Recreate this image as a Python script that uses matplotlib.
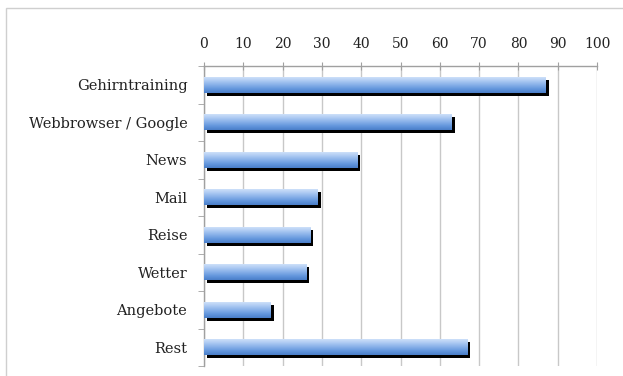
import numpy as np
import matplotlib
matplotlib.use("Agg")
import matplotlib.pyplot as plt
import matplotlib.patheffects as pe
from matplotlib.patches import Rectangle
from matplotlib.colors import LinearSegmentedColormap

categories = ['Gehirntraining', 'Webbrowser / Google', 'News', 'Mail',
              'Reise', 'Wetter', 'Angebote', 'Rest']
values = [87, 63, 39, 29, 27, 26, 17, 67]
x_ticks = [0, 10, 20, 30, 40, 50, 60, 70, 80, 90, 100]

_FONT = 'DejaVu Serif'
_GRID = '#c8c8c8'

fig = plt.figure(figsize=(6.23, 3.76), dpi=100)
ax = fig.add_axes([204 / 623., 1 - 366 / 376., 393 / 623., 300 / 376.])

# outer frame of the chart area
fig.patches.append(Rectangle((6 / 623., -0.1), 1.1, 1 - 8 / 376. + 0.1,
                             transform=fig.transFigure, fill=False,
                             edgecolor='#cfcfcf', linewidth=1.0))

y = np.arange(len(categories))
bars = ax.barh(y, values, height=0.42, color='#7aa5e2', zorder=3,
               path_effects=[pe.SimplePatchShadow(offset=(2.2, -2.2),
                                                  shadow_rgbFace='black',
                                                  alpha=1.0),
                             pe.Normal()])

# vertical gradient fill for each bar
cmap = LinearSegmentedColormap.from_list(
    'bar', ['#cde0f9', '#aac8f2', '#86afe8', '#6396dc', '#4a7ec9'])
grad = np.linspace(0, 1, 64).reshape(-1, 1)
for bar in bars:
  x0, y0 = bar.get_x(), bar.get_y()
  w, h = bar.get_width(), bar.get_height()
  im = ax.imshow(grad, cmap=cmap, aspect='auto', zorder=4,
                 extent=(x0, x0 + w, y0 + h, y0), origin='upper')
  im.set_clip_path(bar)

ax.set_xlim(0, 100)
ax.set_ylim(len(categories) - 0.5, -0.5)
ax.set_aspect('auto')

ax.set_xticks(x_ticks)
ax.xaxis.tick_top()
ax.tick_params(axis='x', which='major', direction='inout', length=6,
               color='#a0a0a0', labelsize=10, pad=8)
ax.grid(axis='x', color=_GRID, linewidth=1.0, zorder=0)

ax.set_yticks(y)
ax.set_yticklabels(categories)
ax.set_yticks(np.arange(len(categories) + 1) - 0.5, minor=True)
ax.tick_params(axis='y', which='major', length=0, labelsize=10.5, pad=12)
ax.tick_params(axis='y', which='minor', direction='out', length=4,
               color='#a0a0a0')

for label in ax.get_xticklabels() + ax.get_yticklabels():
  label.set_family(_FONT)
  label.set_color('#222222')

for side in ['right', 'bottom']:
  ax.spines[side].set_visible(False)
for side in ['top', 'left']:
  ax.spines[side].set_color('#a0a0a0')
  ax.spines[side].set_linewidth(1.0)

fig.savefig('out.png', dpi=100)
